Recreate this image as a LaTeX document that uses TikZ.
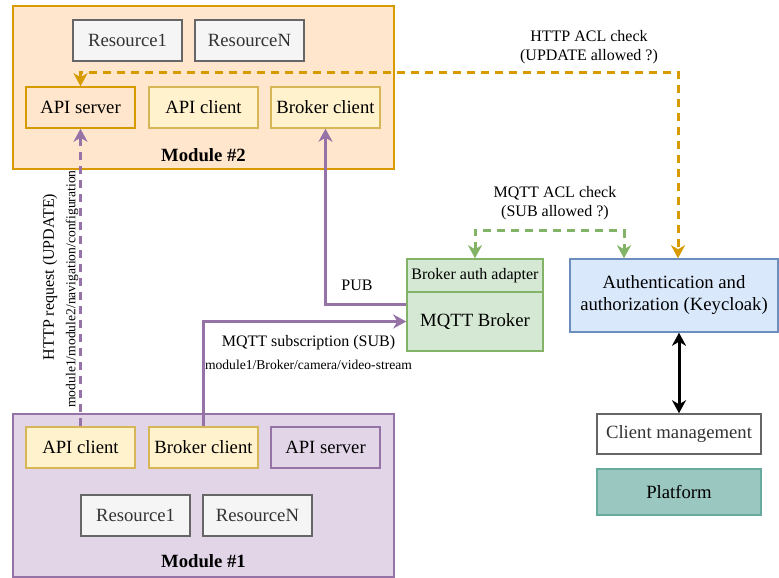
\documentclass[tikz,border=0pt]{standalone}
\usepackage{fontspec}
\setmainfont{Liberation Serif}
\usetikzlibrary{arrows.meta,calc}
\definecolor{orfill}{HTML}{FFE6CC}\definecolor{ordraw}{HTML}{D79B00}
\definecolor{yefill}{HTML}{FFF2CC}\definecolor{yedraw}{HTML}{D6B656}
\definecolor{pufill}{HTML}{E1D5E7}\definecolor{pudraw}{HTML}{9673A6}
\definecolor{grfill}{HTML}{F5F5F5}\definecolor{grdraw}{HTML}{666666}\definecolor{grtext}{HTML}{333333}
\definecolor{gnfill}{HTML}{D5E8D4}\definecolor{gndraw}{HTML}{82B366}
\definecolor{blfill}{HTML}{DAE8FC}\definecolor{bldraw}{HTML}{6C8EBF}
\definecolor{plfill}{HTML}{9AC7BF}\definecolor{pldraw}{HTML}{67AB9F}
\tikzset{
  ctip/.tip={Stealth[length=13pt, width=14pt, inset=4pt]},
  base/.style={rectangle, inner sep=0pt, line width=1.5pt, font=\fontsize{18.7}{22}\selectfont, align=center},
  modbox/.style={base, minimum width=381pt, minimum height=163pt},
  smallbox/.style={base, minimum width=109pt, minimum height=41pt},
  resbox/.style={smallbox, fill=grfill, draw=grdraw, text=grtext},
  yebox/.style={smallbox, fill=yefill, draw=yedraw},
  lbl/.style={font=\fontsize{16}{19}\selectfont, align=center, inner sep=0pt},
  tiny/.style={font=\fontsize{13.6}{16}\selectfont, inner sep=0pt},
  conn/.style={line width=3pt},
  dsh/.style={conn, dash pattern=on 8pt off 6pt}
}
\begin{document}
\begin{tikzpicture}[x=1pt, y=-1pt]
\useasboundingbox (0,0) rectangle (779,578);
% Module 2
\node[modbox, fill=orfill, draw=ordraw] (m2) at (203.5,87.5) {};
\node[resbox] (r12) at (127.5,40.5) {Resource1};
\node[resbox] (rn2) at (249.5,40.5) {ResourceN};
\node[smallbox, fill=orfill, draw=ordraw] (as2) at (80.5,107.5) {API server};
\node[yebox] (ac2) at (203.5,107.5) {API client};
\node[yebox] (bc2) at (325.5,107.5) {Broker client};
\node[base, font=\fontsize{18.7}{22}\selectfont\bfseries] (m2l) at (203.5,155) {Module \#2};
% Module 1
\node[modbox, fill=pufill, draw=pudraw] (m1) at (203.5,495.5) {};
\node[yebox] (ac1) at (80.5,447.5) {API client};
\node[yebox] (bc1) at (203.5,447.5) {Broker client};
\node[smallbox, fill=pufill, draw=pudraw] (as1) at (325.5,447.5) {API server};
\node[resbox] (r11) at (135.5,515.5) {Resource1};
\node[resbox] (rn1) at (257.5,515.5) {ResourceN};
\node[base, font=\fontsize{18.7}{22}\selectfont\bfseries] (m1l) at (203.5,561) {Module \#1};
% Broker
\node[base, fill=gnfill, draw=gndraw, minimum width=136pt, minimum height=33pt, font=\fontsize{16}{19}\selectfont] (ba) at (475,275.5) {Broker auth adapter};
\node[base, fill=gnfill, draw=gndraw, minimum width=136pt, minimum height=59pt] (mb) at (475,321.5) {MQTT Broker};
% Keycloak etc.
\node[base, fill=blfill, draw=bldraw, minimum width=208pt, minimum height=73pt] (kc) at (674,295.5) {Authentication and\\authorization (Keycloak)};
\node[base, fill=white, draw=grdraw, text=grtext, minimum width=164pt, minimum height=40pt] (cm) at (679,434) {Client management};
\node[base, fill=plfill, draw=pldraw, minimum width=164pt, minimum height=46pt] (pl) at (679,492) {Platform};
% connectors
\draw[conn, {ctip}-{ctip}, black] (kc.south -| cm.north) -- (cm.north);
\draw[dsh, ordraw, {ctip}-{ctip}] (as2.north) -- ++(0,-14) -| ($(kc.north)+(4,0)$);
\draw[dsh, gndraw, {ctip}-{ctip}] (ba.north) -- ++(0,-28) -| ($(kc.north)+(-50,0)$);
\draw[dsh, pudraw, -{ctip}] (ac1.north) -- (as2.south);
\draw[conn, pudraw, -{ctip}] (bc1.north) |- (mb.west);
\draw[conn, pudraw, -{ctip}] ($(mb.west)+(0,-17.5)$) -| (bc2.south);
% labels
\node[lbl] (l1) at (589,47) {HTTP ACL check\\(UPDATE allowed ?)};
\node[lbl] (l2) at (555,203) {MQTT ACL check\\(SUB allowed ?)};
\node[lbl] (l3) at (357,285) {PUB};
\node[lbl] (l4) at (308.5,343) {MQTT subscription (SUB)};
\node[tiny] (l5) at (308.5,365) {module1/Broker/camera/video-stream};
\node[lbl, rotate=90] (l6) at (50,277) {HTTP request (UPDATE)};
\node[tiny, rotate=90] (l7) at (72,289) {module1/module2/navigation/configuration};
\end{tikzpicture}
\end{document}
